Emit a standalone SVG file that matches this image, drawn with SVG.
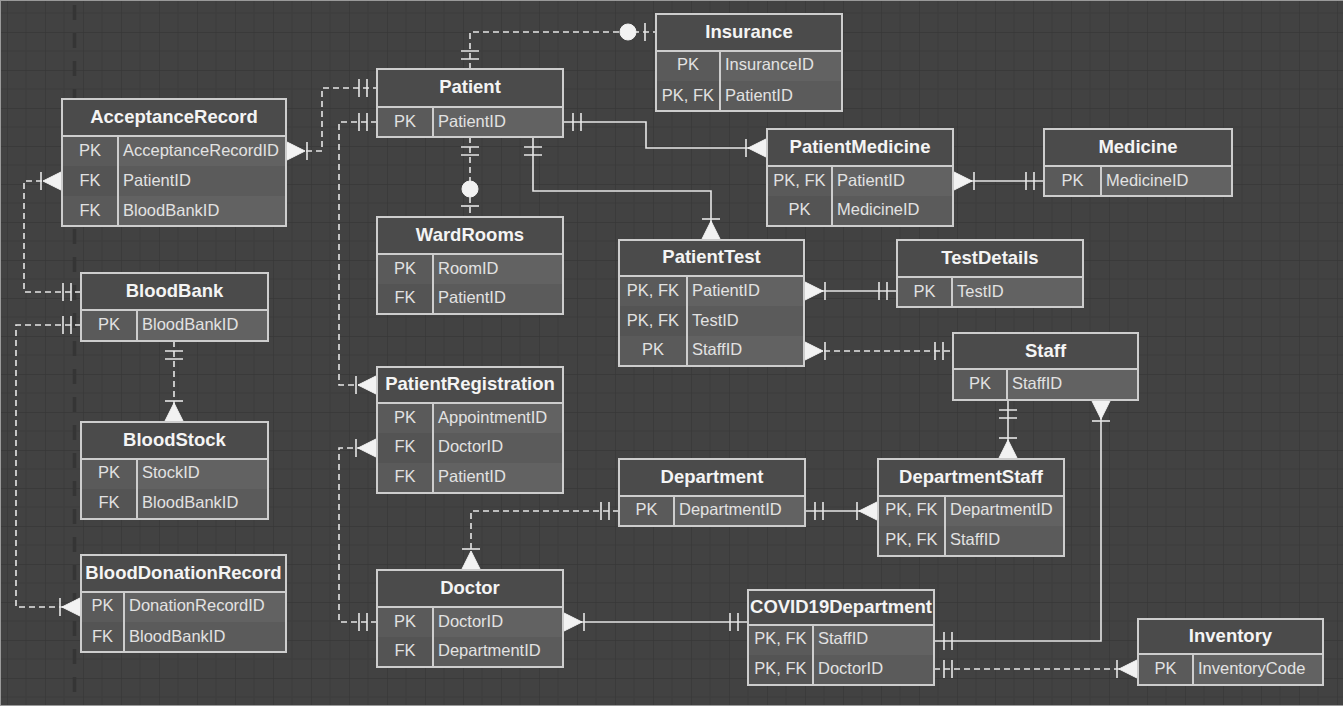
<svg xmlns="http://www.w3.org/2000/svg" width="1343" height="706" viewBox="0 0 1343 706">
  <style>
    .hd { fill: #4b4b4b; }
    .ka { fill: #5a5a5a; }
    .va { fill: #626262; }
    .kb { fill: #545454; }
    .vb { fill: #5b5b5b; }
    .box { fill: none; stroke: #cdcdcd; stroke-width: 2; }
    .sep { stroke: #cdcdcd; stroke-width: 2; }
    .ttl { font-family: "Liberation Sans", Arial, sans-serif; font-weight: bold; font-size: 18.5px; fill: #f4f4f4; text-anchor: middle; }
    .cel { font-family: "Liberation Sans", Arial, sans-serif; font-size: 16.5px; fill: #e2e2e2; }
    .key { text-anchor: middle; }
    .ln { fill: none; stroke: #e6e6e6; stroke-width: 1.6; }
    .dash { stroke-dasharray: 6 4; }
    .mk { fill: none; stroke: #e6e6e6; stroke-width: 1.6; stroke-dasharray: none; }
    .mf { fill: #f2f2f2; stroke: #f2f2f2; stroke-width: 1; }
  </style>
  <defs>
    <pattern id="grid" x="7" y="-6" width="38" height="38" patternUnits="userSpaceOnUse">
      <path d="M19,0V38M0,19H38" stroke="#3c3c3c" stroke-width="1" fill="none"/>
      <path d="M38,0H0V38" stroke="#373737" stroke-width="1.4" fill="none"/>
    </pattern>
    <!-- exactly one: two bars -->
    <marker id="one" markerUnits="userSpaceOnUse" orient="auto-start-reverse" refX="0" refY="0" markerWidth="1" markerHeight="1" overflow="visible">
      <path class="mk" d="M-10,-9V9M-18,-9V9"/>
    </marker>
    <!-- one or many: crow's foot with a bar -->
    <marker id="many" markerUnits="userSpaceOnUse" orient="auto-start-reverse" refX="0" refY="0" markerWidth="1" markerHeight="1" overflow="visible">
      <path class="mf" d="M0,-9.5L-19,0L0,9.5Z"/>
      <path class="mk" d="M-21,-9V9"/>
    </marker>
    <!-- zero or one: circle with a bar -->
    <marker id="zeroOne" markerUnits="userSpaceOnUse" orient="auto-start-reverse" refX="0" refY="0" markerWidth="1" markerHeight="1" overflow="visible">
      <path class="mk" d="M-11,-9V9"/>
      <circle class="mf" cx="-28" cy="0" r="8"/>
    </marker>
  </defs>

  <!-- canvas -->
  <rect x="0" y="0" width="1343" height="706" fill="#424242"/>
  <rect x="0" y="0" width="1343" height="706" fill="url(#grid)"/>
  <line x1="74.5" y1="5" x2="74.5" y2="706" stroke="#353535" stroke-width="3.5" stroke-dasharray="15 13"/>
  <path d="M0,0.5H1343M0.5,0V706M0,705.5H1343" stroke="#9a9a9a" stroke-width="1" fill="none"/>

  <!-- relationships -->
  <g id="connectors">
    <path class="ln dash" d="M286,151H322V88H377" marker-start="url(#many)" marker-end="url(#one)"/>
    <path class="ln dash" d="M377,122H339V385H377" marker-start="url(#one)" marker-end="url(#many)"/>
    <path class="ln dash" d="M377,622H339V448H377" marker-start="url(#one)" marker-end="url(#many)"/>
    <path class="ln dash" d="M470,69V32H656" marker-start="url(#one)" marker-end="url(#zeroOne)"/>
    <path class="ln dash" d="M470,137V217" marker-start="url(#one)" marker-end="url(#zeroOne)"/>
    <path class="ln" d="M533,137V191H711V240" marker-start="url(#one)" marker-end="url(#many)"/>
    <path class="ln" d="M563,122H646V148H767" marker-start="url(#one)" marker-end="url(#many)"/>
    <path class="ln" d="M953,181H1044" marker-start="url(#many)" marker-end="url(#one)"/>
    <path class="ln" d="M804,291H897" marker-start="url(#many)" marker-end="url(#one)"/>
    <path class="ln dash" d="M804,351H953" marker-start="url(#many)" marker-end="url(#one)"/>
    <path class="ln" d="M1008,400V459" marker-start="url(#one)" marker-end="url(#many)"/>
    <path class="ln" d="M1101,400V641H934" marker-start="url(#many)" marker-end="url(#one)"/>
    <path class="ln" d="M805,511H878" marker-start="url(#one)" marker-end="url(#many)"/>
    <path class="ln dash" d="M619,511H471V570" marker-start="url(#one)" marker-end="url(#many)"/>
    <path class="ln" d="M563,622H748" marker-start="url(#many)" marker-end="url(#one)"/>
    <path class="ln dash" d="M934,669H1138" marker-start="url(#one)" marker-end="url(#many)"/>
    <path class="ln dash" d="M62,181H24V292H81" marker-start="url(#many)" marker-end="url(#one)"/>
    <path class="ln dash" d="M81,325H16V607H81" marker-start="url(#one)" marker-end="url(#many)"/>
    <path class="ln dash" d="M174,341V422" marker-start="url(#one)" marker-end="url(#many)"/>
  </g>

  <!-- entities -->
  <g id="AcceptanceRecord">
    <rect class="hd" x="62" y="99" width="224" height="37"/>
    <rect class="ka" x="62" y="136" width="56" height="30"/><rect class="va" x="118" y="136" width="168" height="30"/>
    <rect class="kb" x="62" y="166" width="56" height="30"/><rect class="vb" x="118" y="166" width="168" height="30"/>
    <rect class="ka" x="62" y="196" width="56" height="30"/><rect class="va" x="118" y="196" width="168" height="30"/>
    <rect class="box" x="62" y="99" width="224" height="127"/>
    <path class="sep" d="M62,136H286M118,136V226"/>
    <text class="ttl" x="174" y="123">AcceptanceRecord</text>
    <text class="cel key" x="90" y="156">PK</text><text class="cel" x="123" y="156">AcceptanceRecordID</text>
    <text class="cel key" x="90" y="186">FK</text><text class="cel" x="123" y="186">PatientID</text>
    <text class="cel key" x="90" y="216">FK</text><text class="cel" x="123" y="216">BloodBankID</text>
  </g>

  <g id="Patient">
    <rect class="hd" x="377" y="69" width="186" height="38"/>
    <rect class="ka" x="377" y="107" width="56" height="30"/><rect class="va" x="433" y="107" width="130" height="30"/>
    <rect class="box" x="377" y="69" width="186" height="68"/>
    <path class="sep" d="M377,107H563M433,107V137"/>
    <text class="ttl" x="470" y="93">Patient</text>
    <text class="cel key" x="405" y="127">PK</text><text class="cel" x="438" y="127">PatientID</text>
  </g>

  <g id="Insurance">
    <rect class="hd" x="656" y="14" width="186" height="37"/>
    <rect class="ka" x="656" y="51" width="64" height="30"/><rect class="va" x="720" y="51" width="122" height="30"/>
    <rect class="kb" x="656" y="81" width="64" height="30"/><rect class="vb" x="720" y="81" width="122" height="30"/>
    <rect class="box" x="656" y="14" width="186" height="97"/>
    <path class="sep" d="M656,51H842M720,51V111"/>
    <text class="ttl" x="749" y="38">Insurance</text>
    <text class="cel key" x="688" y="70">PK</text><text class="cel" x="725" y="70">InsuranceID</text>
    <text class="cel key" x="688" y="101">PK, FK</text><text class="cel" x="725" y="101">PatientID</text>
  </g>

  <g id="PatientMedicine">
    <rect class="hd" x="767" y="129" width="186" height="37"/>
    <rect class="ka" x="767" y="166" width="65" height="30"/><rect class="va" x="832" y="166" width="121" height="30"/>
    <rect class="kb" x="767" y="196" width="65" height="30"/><rect class="vb" x="832" y="196" width="121" height="30"/>
    <rect class="box" x="767" y="129" width="186" height="97"/>
    <path class="sep" d="M767,166H953M832,166V226"/>
    <text class="ttl" x="860" y="153">PatientMedicine</text>
    <text class="cel key" x="799.5" y="186">PK, FK</text><text class="cel" x="837" y="186">PatientID</text>
    <text class="cel key" x="799.5" y="215">PK</text><text class="cel" x="837" y="215">MedicineID</text>
  </g>

  <g id="Medicine">
    <rect class="hd" x="1044" y="129" width="188" height="37"/>
    <rect class="ka" x="1044" y="166" width="57" height="30"/><rect class="va" x="1101" y="166" width="131" height="30"/>
    <rect class="box" x="1044" y="129" width="188" height="67"/>
    <path class="sep" d="M1044,166H1232M1101,166V196"/>
    <text class="ttl" x="1138" y="153">Medicine</text>
    <text class="cel key" x="1072.5" y="186">PK</text><text class="cel" x="1106" y="186">MedicineID</text>
  </g>

  <g id="WardRooms">
    <rect class="hd" x="377" y="217" width="186" height="37"/>
    <rect class="ka" x="377" y="254" width="56" height="30"/><rect class="va" x="433" y="254" width="130" height="30"/>
    <rect class="kb" x="377" y="284" width="56" height="30"/><rect class="vb" x="433" y="284" width="130" height="30"/>
    <rect class="box" x="377" y="217" width="186" height="97"/>
    <path class="sep" d="M377,254H563M433,254V314"/>
    <text class="ttl" x="470" y="241">WardRooms</text>
    <text class="cel key" x="405" y="274">PK</text><text class="cel" x="438" y="274">RoomID</text>
    <text class="cel key" x="405" y="303">FK</text><text class="cel" x="438" y="303">PatientID</text>
  </g>

  <g id="PatientTest">
    <rect class="hd" x="619" y="240" width="185" height="36"/>
    <rect class="ka" x="619" y="276" width="68" height="30"/><rect class="va" x="687" y="276" width="117" height="30"/>
    <rect class="kb" x="619" y="306" width="68" height="30"/><rect class="vb" x="687" y="306" width="117" height="30"/>
    <rect class="ka" x="619" y="336" width="68" height="30"/><rect class="va" x="687" y="336" width="117" height="30"/>
    <rect class="box" x="619" y="240" width="185" height="126"/>
    <path class="sep" d="M619,276H804M687,276V366"/>
    <text class="ttl" x="711.5" y="263">PatientTest</text>
    <text class="cel key" x="653" y="296">PK, FK</text><text class="cel" x="692" y="296">PatientID</text>
    <text class="cel key" x="653" y="326">PK, FK</text><text class="cel" x="692" y="326">TestID</text>
    <text class="cel key" x="653" y="355">PK</text><text class="cel" x="692" y="355">StaffID</text>
  </g>

  <g id="TestDetails">
    <rect class="hd" x="897" y="240" width="186" height="37"/>
    <rect class="ka" x="897" y="277" width="55" height="30"/><rect class="va" x="952" y="277" width="131" height="30"/>
    <rect class="box" x="897" y="240" width="186" height="67"/>
    <path class="sep" d="M897,277H1083M952,277V307"/>
    <text class="ttl" x="990" y="264">TestDetails</text>
    <text class="cel key" x="924.5" y="297">PK</text><text class="cel" x="957" y="297">TestID</text>
  </g>

  <g id="Staff">
    <rect class="hd" x="953" y="333" width="185" height="36"/>
    <rect class="ka" x="953" y="369" width="54" height="31"/><rect class="va" x="1007" y="369" width="131" height="31"/>
    <rect class="box" x="953" y="333" width="185" height="67"/>
    <path class="sep" d="M953,369H1138M1007,369V400"/>
    <text class="ttl" x="1045.5" y="357">Staff</text>
    <text class="cel key" x="980" y="389">PK</text><text class="cel" x="1012" y="389">StaffID</text>
  </g>

  <g id="BloodBank">
    <rect class="hd" x="81" y="273" width="187" height="37"/>
    <rect class="ka" x="81" y="310" width="56" height="31"/><rect class="va" x="137" y="310" width="131" height="31"/>
    <rect class="box" x="81" y="273" width="187" height="68"/>
    <path class="sep" d="M81,310H268M137,310V341"/>
    <text class="ttl" x="174.5" y="297">BloodBank</text>
    <text class="cel key" x="109" y="330">PK</text><text class="cel" x="142" y="330">BloodBankID</text>
  </g>

  <g id="BloodStock">
    <rect class="hd" x="81" y="422" width="187" height="37"/>
    <rect class="ka" x="81" y="459" width="56" height="30"/><rect class="va" x="137" y="459" width="131" height="30"/>
    <rect class="kb" x="81" y="489" width="56" height="30"/><rect class="vb" x="137" y="489" width="131" height="30"/>
    <rect class="box" x="81" y="422" width="187" height="97"/>
    <path class="sep" d="M81,459H268M137,459V519"/>
    <text class="ttl" x="174.5" y="446">BloodStock</text>
    <text class="cel key" x="109" y="478">PK</text><text class="cel" x="142" y="478">StockID</text>
    <text class="cel key" x="109" y="508">FK</text><text class="cel" x="142" y="508">BloodBankID</text>
  </g>

  <g id="BloodDonationRecord">
    <rect class="hd" x="81" y="555" width="205" height="37"/>
    <rect class="ka" x="81" y="592" width="43" height="30"/><rect class="va" x="124" y="592" width="162" height="30"/>
    <rect class="kb" x="81" y="622" width="43" height="30"/><rect class="vb" x="124" y="622" width="162" height="30"/>
    <rect class="box" x="81" y="555" width="205" height="97"/>
    <path class="sep" d="M81,592H286M124,592V652"/>
    <text class="ttl" x="183.5" y="579">BloodDonationRecord</text>
    <text class="cel key" x="102.5" y="611">PK</text><text class="cel" x="129" y="611">DonationRecordID</text>
    <text class="cel key" x="102.5" y="642">FK</text><text class="cel" x="129" y="642">BloodBankID</text>
  </g>

  <g id="PatientRegistration">
    <rect class="hd" x="377" y="367" width="186" height="36"/>
    <rect class="ka" x="377" y="403" width="56" height="30"/><rect class="va" x="433" y="403" width="130" height="30"/>
    <rect class="kb" x="377" y="433" width="56" height="30"/><rect class="vb" x="433" y="433" width="130" height="30"/>
    <rect class="ka" x="377" y="463" width="56" height="30"/><rect class="va" x="433" y="463" width="130" height="30"/>
    <rect class="box" x="377" y="367" width="186" height="126"/>
    <path class="sep" d="M377,403H563M433,403V493"/>
    <text class="ttl" x="470" y="390">PatientRegistration</text>
    <text class="cel key" x="405" y="423">PK</text><text class="cel" x="438" y="423">AppointmentID</text>
    <text class="cel key" x="405" y="452">FK</text><text class="cel" x="438" y="452">DoctorID</text>
    <text class="cel key" x="405" y="482">FK</text><text class="cel" x="438" y="482">PatientID</text>
  </g>

  <g id="Department">
    <rect class="hd" x="619" y="459" width="186" height="37"/>
    <rect class="ka" x="619" y="496" width="55" height="30"/><rect class="va" x="674" y="496" width="131" height="30"/>
    <rect class="box" x="619" y="459" width="186" height="67"/>
    <path class="sep" d="M619,496H805M674,496V526"/>
    <text class="ttl" x="712" y="483">Department</text>
    <text class="cel key" x="646.5" y="515">PK</text><text class="cel" x="679" y="515">DepartmentID</text>
  </g>

  <g id="DepartmentStaff">
    <rect class="hd" x="878" y="459" width="186" height="37"/>
    <rect class="ka" x="878" y="496" width="67" height="30"/><rect class="va" x="945" y="496" width="119" height="30"/>
    <rect class="kb" x="878" y="526" width="67" height="30"/><rect class="vb" x="945" y="526" width="119" height="30"/>
    <rect class="box" x="878" y="459" width="186" height="97"/>
    <path class="sep" d="M878,496H1064M945,496V556"/>
    <text class="ttl" x="971" y="483">DepartmentStaff</text>
    <text class="cel key" x="911.5" y="515">PK, FK</text><text class="cel" x="950" y="515">DepartmentID</text>
    <text class="cel key" x="911.5" y="545">PK, FK</text><text class="cel" x="950" y="545">StaffID</text>
  </g>

  <g id="Doctor">
    <rect class="hd" x="377" y="570" width="186" height="37"/>
    <rect class="ka" x="377" y="607" width="56" height="30"/><rect class="va" x="433" y="607" width="130" height="30"/>
    <rect class="kb" x="377" y="637" width="56" height="30"/><rect class="vb" x="433" y="637" width="130" height="30"/>
    <rect class="box" x="377" y="570" width="186" height="97"/>
    <path class="sep" d="M377,607H563M433,607V667"/>
    <text class="ttl" x="470" y="594">Doctor</text>
    <text class="cel key" x="405" y="627">PK</text><text class="cel" x="438" y="627">DoctorID</text>
    <text class="cel key" x="405" y="656">FK</text><text class="cel" x="438" y="656">DepartmentID</text>
  </g>

  <g id="COVID19Department">
    <rect class="hd" x="748" y="590" width="186" height="35"/>
    <rect class="ka" x="748" y="625" width="65" height="30"/><rect class="va" x="813" y="625" width="121" height="30"/>
    <rect class="kb" x="748" y="655" width="65" height="30"/><rect class="vb" x="813" y="655" width="121" height="30"/>
    <rect class="box" x="748" y="590" width="186" height="95"/>
    <path class="sep" d="M748,625H934M813,625V685"/>
    <text class="ttl" x="841" y="613">COVID19Department</text>
    <text class="cel key" x="780.5" y="644">PK, FK</text><text class="cel" x="818" y="644">StaffID</text>
    <text class="cel key" x="780.5" y="674">PK, FK</text><text class="cel" x="818" y="674">DoctorID</text>
  </g>

  <g id="Inventory">
    <rect class="hd" x="1138" y="619" width="185" height="35"/>
    <rect class="ka" x="1138" y="654" width="55" height="31"/><rect class="va" x="1193" y="654" width="130" height="31"/>
    <rect class="box" x="1138" y="619" width="185" height="66"/>
    <path class="sep" d="M1138,654H1323M1193,654V685"/>
    <text class="ttl" x="1230.5" y="642">Inventory</text>
    <text class="cel key" x="1165.5" y="674">PK</text><text class="cel" x="1198" y="674">InventoryCode</text>
  </g>
</svg>
